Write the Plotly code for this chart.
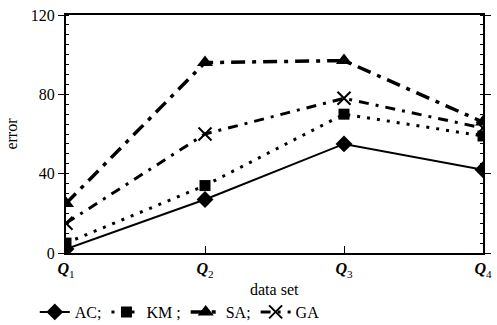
import plotly.graph_objects as go

categories = ["<b><i>Q</i></b><sub>1</sub>", "<b><i>Q</i></b><sub>2</sub>",
              "<b><i>Q</i></b><sub>3</sub>", "<b><i>Q</i></b><sub>4</sub>"]
x_pos = [0, 1, 2, 3]
ac = [2, 27, 55, 42]
km = [5, 34, 70, 59]
sa = [25, 96, 97, 66]
ga = [15, 60, 78, 63]
series_names = ["AC;", "KM ;", "SA;", "GA"]
y_ticks = [0, 40, 80, 120]

FONT = "Liberation Serif, Times New Roman, serif"

fig = go.Figure()
fig.add_trace(go.Scatter(x=x_pos, y=ac, name=series_names[0], mode="lines+markers",
                         line=dict(color="black", width=2, dash="solid"),
                         marker=dict(symbol="diamond", size=13, color="black")))
fig.add_trace(go.Scatter(x=x_pos, y=km, name=series_names[1], mode="lines+markers",
                         line=dict(color="black", width=3, dash="3px,7px"),
                         marker=dict(symbol="square", size=11, color="black")))
fig.add_trace(go.Scatter(x=x_pos, y=sa, name=series_names[2], mode="lines+markers",
                         line=dict(color="black", width=3.5, dash="14px,7px,4px,7px"),
                         marker=dict(symbol="triangle-up", size=14, color="black")))
fig.add_trace(go.Scatter(x=x_pos, y=ga, name=series_names[3], mode="lines+markers",
                         line=dict(color="black", width=3, dash="10px,7px,3px,7px"),
                         marker=dict(symbol="x-thin-open", size=13, color="black",
                                     line=dict(color="black", width=2))))

fig.update_layout(
    width=497, height=325,
    margin=dict(l=66, r=6, t=15, b=72),
    paper_bgcolor="white", plot_bgcolor="white",
    font=dict(family=FONT, size=15, color="black"),
    showlegend=True,
    legend=dict(orientation="h", xref="container", yref="container",
                x=0.07, y=0.04, xanchor="left", yanchor="middle",
                font=dict(size=16), tracegroupgap=0, bgcolor="rgba(0,0,0,0)"),
    annotations=[dict(text="data set", xref="paper", yref="paper", x=0.5, y=-0.155,
                      xanchor="center", yanchor="middle", showarrow=False,
                      font=dict(size=16))],
)
fig.update_xaxes(range=[0, 3], tickmode="array", tickvals=x_pos, ticktext=categories,
                 showgrid=False, zeroline=False, showline=True, linecolor="black",
                 linewidth=2, mirror=True, ticks="inside", ticklen=7, tickcolor="black",
                 tickfont=dict(size=16), automargin=False, ticklabeloverflow="allow")
fig.update_yaxes(range=[0, 120], tickmode="array", tickvals=y_ticks,
                 showgrid=False, zeroline=False, showline=True, linecolor="black",
                 linewidth=2, mirror="ticks", ticks="outside", ticklen=6, tickcolor="black",
                 minor=dict(dtick=5, ticks="inside", ticklen=3, tickcolor="black", showgrid=False),
                 tickfont=dict(size=16),
                 title=dict(text="error", standoff=9, font=dict(size=16)))

fig.write_html("out.html", config={"displayModeBar": False},
               post_script="document.body.style.margin='0';")
